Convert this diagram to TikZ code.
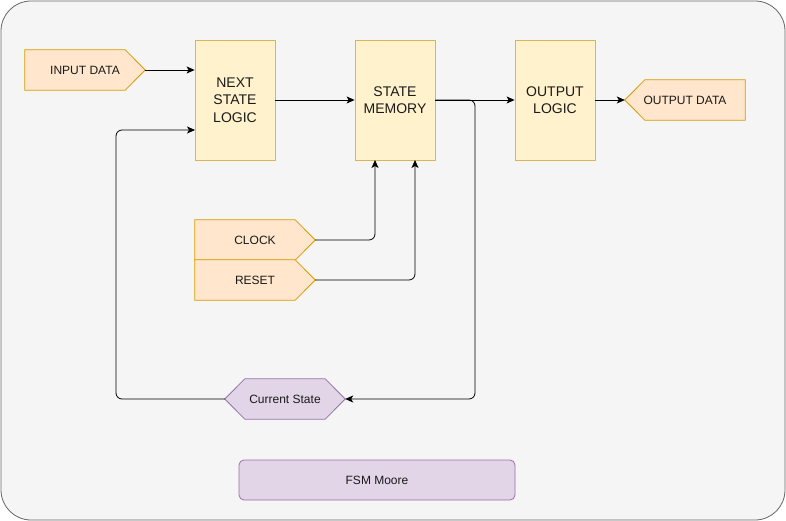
\documentclass[tikz,border=0pt]{standalone}
\usepackage{fontspec}
\setmainfont{Liberation Sans}
\usetikzlibrary{arrows.meta, backgrounds}

\definecolor{bgfill}{HTML}{F5F5F5}
\definecolor{bgline}{HTML}{666666}
\definecolor{orfill}{HTML}{FFE6CC}
\definecolor{orline}{HTML}{D79B00}
\definecolor{yefill}{HTML}{FFF2CC}
\definecolor{yeline}{HTML}{D6B656}
\definecolor{pufill}{HTML}{E1D5E7}
\definecolor{puline}{HTML}{9673A6}
\definecolor{txt}{HTML}{1A1A1A}

\begin{document}
\begin{tikzpicture}[x=1pt, y=-1pt, >={Stealth[length=8pt, width=7pt, inset=2pt]},
    block/.style={rectangle, draw=yeline, fill=yefill, line width=0.8pt, minimum width=80pt,
        minimum height=120pt, inner sep=0pt, align=center, text=txt, font=\fontsize{14}{17.5}\selectfont},
    tag/.style={rectangle, minimum width=120pt, minimum height=40pt, inner sep=0pt,
        text=txt, font=\fontsize{12}{14}\selectfont},
    orshape/.style={draw=orline, fill=orfill, line width=0.8pt},
    pushape/.style={draw=puline, fill=pufill, line width=0.8pt},
    wire/.style={->, line width=0.8pt, rounded corners=6pt}]
    \useasboundingbox (0,0) rectangle (786,521);

    % bloques
    \node[block] (nsl) at (235,100) {NEXT\\STATE\\LOGIC};
    \node[block] (mem) at (395,100) {STATE\\MEMORY};
    \node[block] (outl) at (555,100) {OUTPUT\\LOGIC};

    % entradas y salidas
    \node[tag] (indata) at (85,70) {INPUT DATA};
    \node[tag] (outdata) at (685,100) {OUTPUT DATA};
    \node[tag] (clk) at (255,240) {CLOCK};
    \node[tag] (rst) at (255,280) {RESET};
    \node[tag] (cur) at (285,399) {Current State};
    \node[tag, rounded corners=5pt, pushape, minimum width=276pt] (title) at (377,480) {FSM Moore};

    % contornos
    \begin{scope}[on background layer]
        \draw[fill=bgfill, draw=bgline, line width=0.8pt, rounded corners=30pt] (1,1) rectangle (785,520);
        \foreach \n in {indata, clk, rst}
            \draw[orshape] (\n.north west) -- ([xshift=-20pt]\n.north east) -- (\n.east)
                -- ([xshift=-20pt]\n.south east) -- (\n.south west) -- cycle;
        \draw[orshape] (outdata.west) -- ([xshift=20pt]outdata.north west) -- (outdata.north east)
            -- (outdata.south east) -- ([xshift=20pt]outdata.south west) -- cycle;
        \draw[pushape] (cur.west) -- ([xshift=20pt]cur.north west) -- ([xshift=-20pt]cur.north east)
            -- (cur.east) -- ([xshift=-20pt]cur.south east) -- ([xshift=20pt]cur.south west) -- cycle;
    \end{scope}

    % flechas
    \draw[wire] (indata.east) -- (nsl.west |- indata.east);
    \draw[wire] (nsl.east) -- (mem.west);
    \draw[wire] (mem.east) -- (outl.west);
    \draw[wire] (outl.east) -- (outdata.west);
    \draw[wire] (clk.east) -- (375,240) -- (375,160);
    \draw[wire] (rst.east) -- (415,280) -- (415,160);
    \draw[wire] (mem.east) -- (475,100) -- (475,399) -- (cur.east);
    \draw[wire] (cur.west) -- (116,399) -- (116,130) -- (195,130);
\end{tikzpicture}
\end{document}
